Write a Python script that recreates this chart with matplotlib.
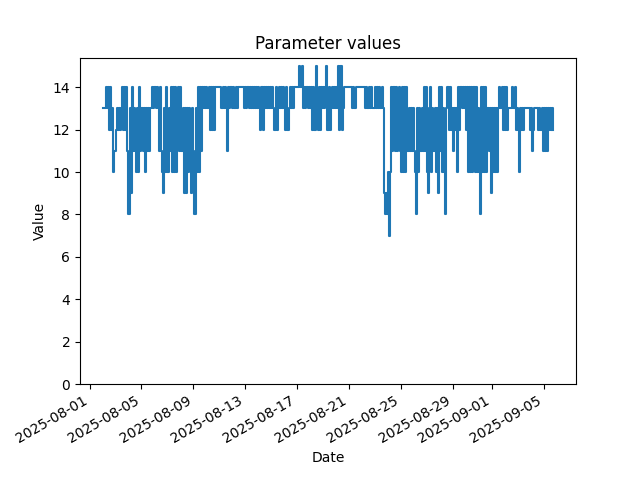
import pandas as pd
import matplotlib
matplotlib.use("Agg")
import matplotlib.pyplot as plt

# Readings every 2 hours, starting 2025-08-02 00:00 (one row = one day)
start_time = "2025-08-02 00:00"
sample_step = "2h"

week1 = [
    [13, 13, 13, 14, 13, 14, 12, 14, 12, 13, 10, 11],  # Aug 2
    [12, 13, 12, 13, 12, 13, 14, 12, 14, 12, 14, 11],  # Aug 3
    [8, 13, 9, 14, 11, 13, 11, 10, 13, 10, 14, 11],    # Aug 4
    [13, 11, 13, 10, 13, 11, 13, 11, 13, 13, 14, 13],  # Aug 5
    [14, 13, 14, 13, 11, 14, 11, 10, 9, 13, 10, 14],   # Aug 6
    [10, 13, 11, 14, 10, 14, 10, 14, 10, 13, 14, 11],  # Aug 7
    [14, 11, 13, 9, 13, 9, 13, 10, 13, 11, 9, 13],     # Aug 8
]
week2 = [
    [11, 8, 13, 10, 14, 10, 14, 11, 14, 13, 14, 13],   # Aug 9
    [14, 13, 14, 12, 14, 12, 14, 12, 14, 14, 14, 14],  # Aug 10
    [14, 14, 13, 14, 13, 14, 13, 11, 14, 13, 14, 14],  # Aug 11
    [13, 14, 13, 14, 13, 14, 14, 14, 14, 14, 14, 13],  # Aug 12
    [14, 13, 14, 13, 14, 13, 14, 13, 14, 13, 14, 13],  # Aug 13
    [14, 13, 12, 14, 12, 14, 13, 14, 13, 14, 13, 14],  # Aug 14
    [13, 14, 13, 12, 14, 12, 13, 14, 13, 14, 13, 14],  # Aug 15
]
week3 = [
    [13, 12, 14, 12, 13, 14, 13, 14, 13, 14, 14, 14],  # Aug 16
    [14, 14, 15, 14, 15, 13, 14, 13, 14, 14, 13, 14],  # Aug 17
    [13, 14, 12, 14, 12, 15, 13, 12, 14, 12, 14, 13],  # Aug 18
    [14, 13, 14, 15, 12, 14, 12, 13, 14, 13, 14, 13],  # Aug 19
    [14, 13, 15, 12, 15, 12, 13, 14, 14, 14, 14, 14],  # Aug 20
    [14, 14, 14, 13, 14, 13, 14, 14, 14, 14, 14, 14],  # Aug 21
    [14, 14, 14, 13, 14, 13, 14, 13, 14, 13, 13, 13],  # Aug 22
]
week4 = [
    [14, 13, 14, 13, 14, 13, 14, 13, 9, 8, 9, 8],      # Aug 23
    [10, 7, 10, 14, 11, 14, 11, 14, 11, 13, 14, 11],   # Aug 24
    [10, 14, 10, 14, 10, 14, 11, 13, 11, 13, 11, 13],  # Aug 25
    [11, 10, 8, 13, 10, 13, 11, 13, 11, 14, 11, 14],   # Aug 26
    [10, 9, 13, 14, 10, 13, 11, 13, 10, 13, 9, 14],    # Aug 27
    [11, 14, 10, 13, 10, 8, 13, 14, 12, 14, 12, 13],   # Aug 28
    [11, 13, 12, 13, 10, 14, 12, 14, 13, 14, 13, 14],  # Aug 29
]
week5 = [
    [12, 14, 10, 14, 10, 14, 10, 14, 10, 14, 10, 13],  # Aug 30
    [10, 8, 14, 10, 14, 10, 14, 10, 13, 11, 13, 9],    # Aug 31
    [13, 10, 13, 10, 13, 10, 13, 14, 13, 14, 12, 14],  # Sep 1
    [12, 14, 12, 13, 13, 13, 13, 14, 13, 14, 12, 13],  # Sep 2
    [12, 10, 13, 12, 13, 12, 13, 13, 13, 13, 13, 12],  # Sep 3
    [13, 11, 12, 13, 13, 13, 13, 12, 13, 12, 13, 11],  # Sep 4
    [13, 11, 13, 11, 13, 12, 13, 12, 13, 12],          # Sep 5 (ends 18:00)
]

values = [v for week in (week1, week2, week3, week4, week5) for day in week for v in day]
dates = pd.date_range(start=start_time, periods=len(values), freq=sample_step)

plt.figure(figsize=(6.4, 4.8), dpi=100)
# readings hold until the next one comes in
plt.plot(dates, values, drawstyle="steps-post")
plt.title("Parameter values")
plt.xlabel("Date")
plt.ylabel("Value")
plt.ylim(bottom=0)
plt.gcf().autofmt_xdate()
plt.savefig("out.png", dpi=100)
